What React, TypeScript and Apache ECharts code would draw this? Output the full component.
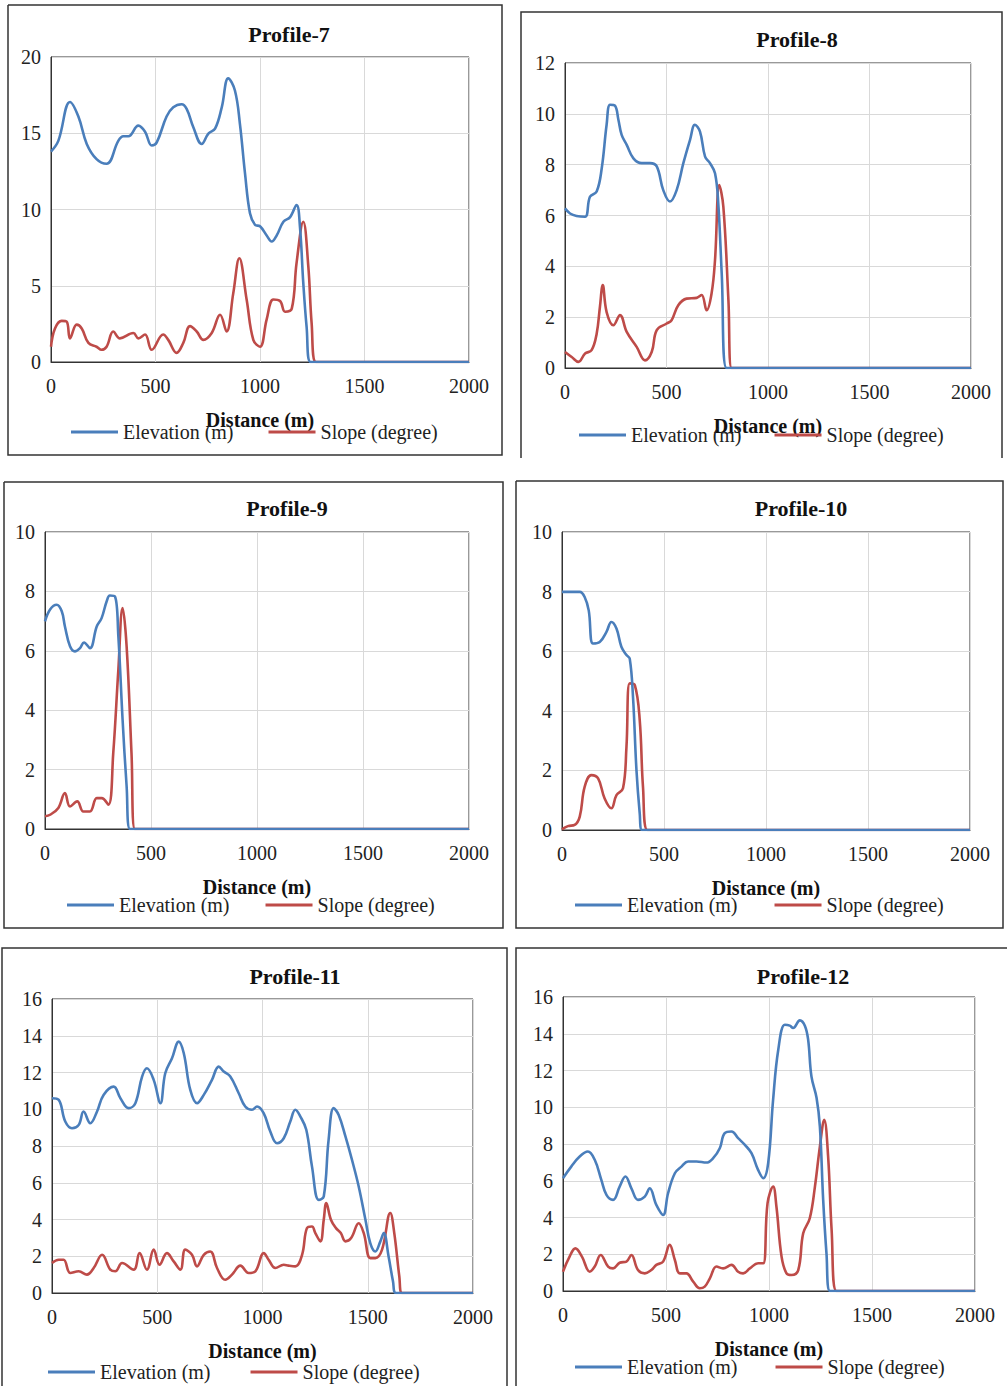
import React, { useEffect, useRef } from "react";
import * as echarts from "echarts";

// ---------- data ----------
const distanceTicks = [0, 500, 1000, 1500, 2000];
const seriesNames = ["Elevation (m)", "Slope (degree)"];
const profileTitles = ["Profile-7", "Profile-8", "Profile-9", "Profile-10", "Profile-11", "Profile-12"];
const yMaxes = [20, 12, 10, 10, 16, 16];
const yIntervals = [5, 2, 2, 2, 2, 2];

const p7Elevation = [
  [0, 13.8], [35, 14.5], [91, 17.05], [131, 16.1], [171, 14.3], [218, 13.3], [266, 13.0],
  [322, 14.5], [346, 14.8], [370, 14.8], [418, 15.5], [450, 15.1], [482, 14.2], [506, 14.4],
  [553, 16.1], [585, 16.7], [625, 16.9], [649, 16.6], [681, 15.4], [721, 14.3], [753, 14.98],
  [785, 15.3], [817, 16.7], [848, 18.6], [880, 17.8], [904, 15.6], [928, 12.4], [952, 9.75],
  [976, 9.0], [1000, 8.9], [1032, 8.3], [1056, 7.9], [1080, 8.3], [1112, 9.2], [1144, 9.5],
  [1175, 10.3], [1191, 8.9], [1207, 5.2], [1223, 2.3], [1242, 0], [2000, 0],
];
const p7Slope = [
  [0, 1.0], [19, 2.2], [51, 2.7], [75, 2.65], [91, 1.55], [123, 2.45], [147, 2.2], [179, 1.25],
  [218, 1.0], [242, 0.8], [266, 1.0], [298, 2.0], [330, 1.55], [394, 1.9], [418, 1.55],
  [450, 1.8], [482, 0.8], [537, 1.8], [561, 1.45], [601, 0.6], [633, 1.25], [665, 2.35],
  [697, 2.0], [729, 1.45], [769, 1.9], [809, 3.1], [840, 2.0], [872, 4.5], [901, 6.8],
  [936, 4.1], [968, 1.45], [1000, 1.0], [1032, 2.8], [1064, 4.1], [1096, 4.0], [1120, 3.3],
  [1152, 3.5], [1175, 6.5], [1207, 9.2], [1231, 6.3], [1247, 2.55], [1268, 0], [2000, 0],
];
const p8Elevation = [
  [0, 6.28], [25, 6.08], [57, 5.98], [99, 5.95], [123, 6.74], [156, 6.94], [181, 7.86],
  [205, 9.57], [222, 10.36], [246, 10.32], [263, 9.77], [279, 9.17], [304, 8.78], [337, 8.25],
  [378, 8.06], [419, 8.06], [452, 7.93], [484, 7.0], [517, 6.55], [550, 7.0], [583, 8.06],
  [616, 8.98], [640, 9.57], [665, 9.3], [690, 8.32], [714, 8.06], [739, 7.66], [755, 6.48],
  [772, 3.72], [796, 0], [2000, 0],
];
const p8Slope = [
  [0, 0.63], [33, 0.43], [66, 0.24], [99, 0.57], [131, 0.7], [156, 1.35], [172, 2.4],
  [186, 3.26], [205, 2.2], [238, 1.68], [271, 2.08], [304, 1.42], [353, 0.83], [394, 0.3],
  [427, 0.63], [452, 1.49], [501, 1.75], [525, 1.88], [558, 2.47], [599, 2.73], [649, 2.76],
  [673, 2.87], [698, 2.27], [722, 2.93], [739, 4.25], [760, 7.2], [780, 6.35], [805, 2.67],
  [821, 0], [2000, 0],
];
const p9Elevation = [
  [0, 6.99], [24, 7.39], [55, 7.55], [79, 7.33], [94, 6.82], [118, 6.15], [141, 5.98],
  [165, 6.09], [184, 6.28], [212, 6.09], [244, 6.82], [267, 7.1], [291, 7.67], [306, 7.86],
  [330, 7.83], [346, 6.49], [366, 3.68], [385, 1.44], [401, 0], [2000, 0],
];
const p9Slope = [
  [0, 0.43], [24, 0.48], [63, 0.71], [94, 1.21], [118, 0.76], [152, 0.93], [181, 0.59],
  [212, 0.59], [244, 1.04], [267, 1.04], [299, 0.82], [322, 2.56], [346, 5.36], [366, 7.44],
  [385, 6.15], [408, 2.56], [424, 0], [2000, 0],
];
const p10Elevation = [
  [0, 7.99], [46, 7.99], [87, 7.99], [111, 7.82], [131, 7.37], [152, 6.26], [185, 6.31],
  [218, 6.65], [242, 6.98], [267, 6.76], [291, 6.15], [316, 5.87], [332, 5.75], [348, 4.47],
  [365, 2.01], [381, 0.56], [392, 0], [2000, 0],
];
const p10Slope = [
  [0, 0.02], [29, 0.13], [62, 0.17], [87, 0.45], [111, 1.45], [144, 1.84], [177, 1.73],
  [209, 1.06], [242, 0.73], [267, 1.17], [299, 1.4], [316, 2.79], [332, 4.92], [357, 4.86],
  [381, 3.69], [397, 1.45], [419, 0], [2000, 0],
];
const p11Elevation = [
  [0, 10.6], [32, 10.51], [63, 9.33], [95, 8.97], [127, 9.15], [150, 9.88], [182, 9.24],
  [214, 9.88], [245, 10.78], [293, 11.23], [325, 10.6], [364, 10.06], [396, 10.33],
  [428, 11.78], [451, 12.23], [483, 11.6], [515, 10.33], [538, 11.96], [570, 12.77],
  [602, 13.68], [626, 13.05], [657, 11.05], [689, 10.33], [721, 10.78], [760, 11.6],
  [792, 12.32], [816, 12.05], [847, 11.78], [887, 10.87], [918, 10.15], [950, 9.97],
  [974, 10.15], [1006, 9.78], [1037, 8.79], [1069, 8.15], [1101, 8.42], [1132, 9.33],
  [1156, 9.97], [1180, 9.6], [1208, 8.88], [1235, 6.89], [1267, 5.07], [1291, 5.25],
  [1314, 8.33], [1338, 10.06], [1362, 9.69], [1394, 8.52], [1425, 7.25], [1457, 5.8],
  [1489, 3.99], [1512, 2.72], [1536, 2.26], [1560, 2.81], [1576, 3.26], [1599, 1.99],
  [1620, 0.63], [1634, 0], [2000, 0],
];
const p11Slope = [
  [0, 1.63], [32, 1.81], [55, 1.81], [87, 1.09], [127, 1.18], [166, 1.0], [198, 1.36],
  [238, 2.08], [277, 1.27], [301, 1.18], [333, 1.63], [388, 1.27], [416, 2.17], [451, 1.27],
  [483, 2.36], [511, 1.54], [546, 2.17], [578, 1.72], [610, 1.27], [633, 2.36], [665, 2.08],
  [689, 1.45], [721, 2.08], [752, 2.26], [784, 1.36], [823, 0.72], [855, 1.0], [895, 1.49],
  [934, 1.09], [966, 1.18], [1006, 2.17], [1029, 1.81], [1061, 1.36], [1101, 1.54],
  [1124, 1.49], [1156, 1.45], [1188, 2.08], [1211, 3.53], [1235, 3.62], [1251, 3.26],
  [1275, 2.81], [1291, 3.99], [1303, 4.89], [1325, 3.99], [1349, 3.53], [1372, 3.26],
  [1394, 2.81], [1421, 2.99], [1457, 3.8], [1481, 3.26], [1512, 1.9], [1536, 1.9],
  [1568, 2.36], [1607, 4.35], [1626, 3.26], [1650, 0.9], [1663, 0], [2000, 0],
];
const p12Elevation = [
  [0, 6.14], [40, 6.77], [81, 7.32], [121, 7.59], [154, 7.14], [186, 6.05], [211, 5.23],
  [243, 4.96], [275, 5.68], [303, 6.23], [332, 5.59], [364, 4.96], [397, 5.14], [421, 5.59],
  [453, 4.69], [486, 4.14], [510, 5.32], [543, 6.41], [575, 6.77], [607, 7.05], [648, 7.05],
  [696, 6.99], [729, 7.23], [761, 7.77], [785, 8.59], [818, 8.68], [850, 8.32], [883, 7.95],
  [915, 7.5], [947, 6.59], [972, 6.14], [996, 6.96], [1020, 10.41], [1045, 13.13],
  [1077, 14.49], [1101, 14.44], [1117, 14.31], [1150, 14.73], [1174, 14.44], [1190, 13.68],
  [1206, 11.68], [1231, 10.5], [1247, 8.95], [1263, 4.96], [1279, 2.05], [1296, 0], [2000, 0],
];
const p12Slope = [
  [0, 1.05], [32, 1.87], [60, 2.32], [92, 1.87], [130, 1.05], [154, 1.33], [183, 1.96],
  [219, 1.33], [243, 1.23], [275, 1.54], [308, 1.6], [332, 1.96], [364, 1.14], [397, 0.96],
  [429, 1.14], [453, 1.42], [486, 1.6], [518, 2.51], [543, 1.69], [567, 0.96], [599, 0.96],
  [632, 0.51], [664, 0.15], [688, 0.24], [713, 0.69], [745, 1.33], [777, 1.23], [818, 1.42],
  [850, 1.05], [874, 0.96], [907, 1.23], [947, 1.51], [972, 1.51], [993, 4.78], [1020, 5.68],
  [1036, 4.6], [1061, 1.87], [1085, 0.96], [1109, 0.87], [1142, 1.14], [1166, 3.14],
  [1198, 3.96], [1223, 5.68], [1247, 7.86], [1268, 9.32], [1287, 7.32], [1304, 3.32],
  [1328, 0], [2000, 0],
];
const elevationSets = [p7Elevation, p8Elevation, p9Elevation, p10Elevation, p11Elevation, p12Elevation];
const slopeSets = [p7Slope, p8Slope, p9Slope, p10Slope, p11Slope, p12Slope];

// ---------- layout ----------
const FONT = '"Liberation Serif", "Times New Roman", serif';
const BLUE = "#4A7EBB";
const RED = "#BE4B48";
const W = 1007;
const H = 1386;

const grids = [
  { left: 51, top: 57, width: 418, height: 305 },
  { left: 565, top: 63, width: 406, height: 305 },
  { left: 45, top: 532, width: 424, height: 297 },
  { left: 562, top: 532, width: 408, height: 298 },
  { left: 52, top: 999, width: 421, height: 294 },
  { left: 563, top: 997, width: 412, height: 294 },
];
const titlePos = [
  [289, 34], [797, 39], [287, 508], [801, 508], [295, 976], [803, 976],
];
const legendPos = [
  { left: 71, cy: 432, gap: 35 },
  { left: 579, cy: 435, gap: 33 },
  { left: 67, cy: 905, gap: 36 },
  { left: 575, cy: 905, gap: 37 },
  { left: 48, cy: 1372, gap: 40 },
  { left: 575, cy: 1367, gap: 38 },
];
const borders: number[][][] = [
  [[8, 5], [502, 5], [502, 455], [8, 455], [8, 5]],
  [[521, 458], [521, 12], [1002, 12], [1002, 458]],
  [[4, 482], [503, 482], [503, 928], [4, 928], [4, 482]],
  [[516, 481], [1003, 481], [1003, 928], [516, 928], [516, 481]],
  [[2, 1390], [2, 948], [507, 948], [507, 1390]],
  [[516, 1390], [516, 948], [1010, 948]],
];

function buildOption() {
  const grid: any[] = [];
  const xAxis: any[] = [];
  const yAxis: any[] = [];
  const series: any[] = [];
  const title: any[] = [];
  const legend: any[] = [];
  const graphic: any[] = [];

  for (let i = 0; i < 6; i++) {
    grid.push({
      ...grids[i],
      containLabel: false,
      show: true,
      borderColor: "#333",
      borderWidth: 1,
      backgroundColor: "transparent",
    });
    xAxis.push({
      type: "value",
      gridIndex: i,
      min: distanceTicks[0],
      max: distanceTicks[distanceTicks.length - 1],
      interval: distanceTicks[1] - distanceTicks[0],
      name: "Distance (m)",
      nameLocation: "middle",
      nameGap: 48,
      nameTextStyle: { fontFamily: FONT, fontSize: 20, fontWeight: "bold", color: "#111" },
      axisLine: { show: true, lineStyle: { color: "#333", width: 1 } },
      axisTick: { show: false },
      axisLabel: {
        fontFamily: FONT,
        fontSize: 20,
        color: "#222",
        margin: 14,
        formatter: (v: number) => String(v),
      },
      splitLine: { show: true, lineStyle: { color: "#d9d9d9", width: 1 } },
    });
    yAxis.push({
      type: "value",
      gridIndex: i,
      min: 0,
      max: yMaxes[i],
      interval: yIntervals[i],
      axisLine: { show: true, lineStyle: { color: "#333", width: 1 } },
      axisTick: { show: false },
      axisLabel: { fontFamily: FONT, fontSize: 20, color: "#222", margin: 10 },
      splitLine: { show: true, lineStyle: { color: "#d9d9d9", width: 1 } },
    });
    series.push({
      name: seriesNames[0],
      type: "line",
      xAxisIndex: i,
      yAxisIndex: i,
      data: elevationSets[i],
      smooth: 0.4,
      symbol: "none",
      lineStyle: { color: BLUE, width: 2.6 },
      itemStyle: { color: BLUE },
      z: 3,
    });
    series.push({
      name: seriesNames[1],
      type: "line",
      xAxisIndex: i,
      yAxisIndex: i,
      data: slopeSets[i],
      smooth: 0.4,
      symbol: "none",
      lineStyle: { color: RED, width: 2.6 },
      itemStyle: { color: RED },
      z: 2,
    });
    title.push({
      text: profileTitles[i],
      left: titlePos[i][0],
      top: titlePos[i][1],
      textAlign: "center",
      textVerticalAlign: "middle",
      padding: 0,
      textStyle: { fontFamily: FONT, fontSize: 22, fontWeight: "bold", color: "#111" },
    });
    legend.push({
      data: seriesNames.map((n) => ({ name: n, icon: "rect" })),
      left: legendPos[i].left,
      top: legendPos[i].cy - 10,
      padding: 0,
      itemGap: legendPos[i].gap,
      itemWidth: 47,
      itemHeight: 3,
      selectedMode: false,
      textStyle: { fontFamily: FONT, fontSize: 20, color: "#222", padding: [0, 0, 0, 0] },
    });
    graphic.push({
      type: "polyline",
      shape: { points: borders[i] },
      style: { stroke: "#333", lineWidth: 1.5, fill: null },
      silent: true,
      z: 10,
    });
  }

  return {
    animation: false,
    backgroundColor: "#fff",
    grid,
    xAxis,
    yAxis,
    series,
    title,
    legend,
    graphic,
  };
}

export default function App() {
  const ref = useRef<HTMLDivElement>(null);
  useEffect(() => {
    if (!ref.current) return;
    const chart = echarts.init(ref.current, undefined, { renderer: "svg", width: W, height: H });
    chart.setOption(buildOption() as any);
    return () => chart.dispose();
  }, []);
  return (
    <div
      ref={ref}
      style={{ position: "absolute", left: 0, top: 0, width: W, height: H, background: "#fff" }}
    />
  );
}
